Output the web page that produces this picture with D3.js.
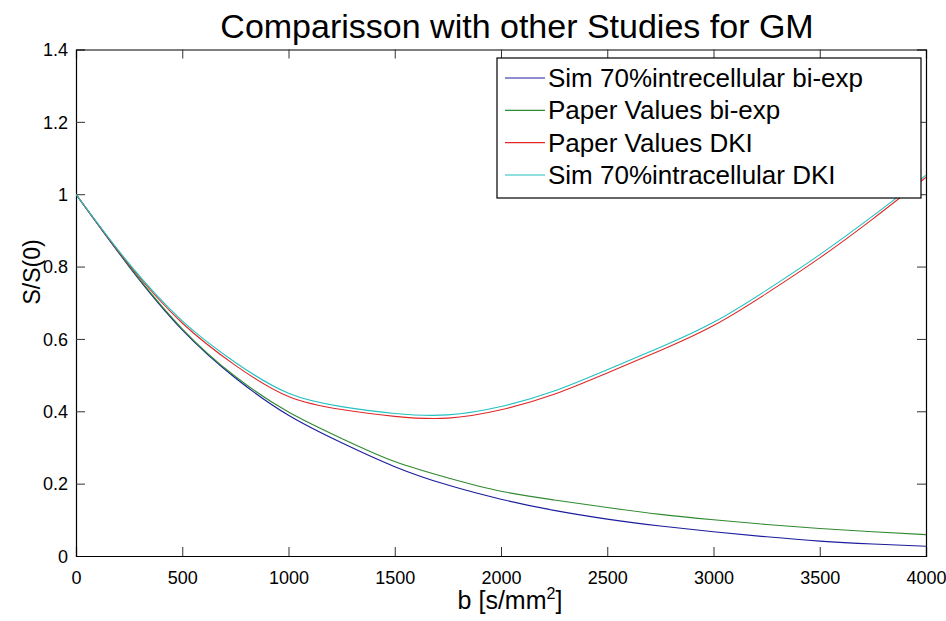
<!DOCTYPE html>
<html>
<head>
<meta charset="utf-8">
<script src="https://cdn.jsdelivr.net/npm/d3@7"></script>
<style>
  html, body { margin: 0; padding: 0; background: #fff; }
  svg { display: block; font-family: "Liberation Sans", Arial, Helvetica, sans-serif; }
</style>
</head>
<body>
<svg id="chart" width="946" height="621"></svg>
<script>
// b-values (s/mm^2) at which the signal curves are sampled
const bValues = [0, 250, 500, 750, 1000, 1250, 1500, 1750, 2000, 2250, 2500, 2750, 3000, 3250, 3500, 3750, 4000];

// Normalised signal S/S(0) for each model
const simBiExp   = [1.000, 0.800, 0.625, 0.492, 0.389, 0.313, 0.247, 0.196, 0.157, 0.126, 0.102, 0.083, 0.067, 0.053, 0.041, 0.033, 0.027];
const paperBiExp = [1.000, 0.802, 0.628, 0.496, 0.398, 0.325, 0.261, 0.216, 0.179, 0.155, 0.134, 0.115, 0.100, 0.087, 0.076, 0.067, 0.059];
const paperDKI   = [1.000, 0.805, 0.644, 0.527, 0.441, 0.405, 0.386, 0.381, 0.404, 0.447, 0.506, 0.568, 0.637, 0.726, 0.824, 0.932, 1.047];
const simDKI     = [1.000, 0.808, 0.650, 0.535, 0.450, 0.413, 0.394, 0.390, 0.413, 0.456, 0.515, 0.577, 0.646, 0.735, 0.833, 0.940, 1.053];

const seriesNames  = ["Sim 70%intrecellular bi-exp", "Paper Values bi-exp", "Paper Values DKI", "Sim 70%intracellular DKI"];
const seriesColors = ["#1c1c9c", "#2f8a2f", "#e02828", "#22c0c0"];
const seriesValues = [simBiExp, paperBiExp, paperDKI, simDKI];

const xTicks = [0, 500, 1000, 1500, 2000, 2500, 3000, 3500, 4000];
const yTicks = [0, 0.2, 0.4, 0.6, 0.8, 1, 1.2, 1.4];

const svg = d3.select("#chart");
const plot = { left: 76, right: 926, top: 49.5, bottom: 556 };

const x = d3.scaleLinear().domain([0, 4000]).range([plot.left, plot.right]);
const y = d3.scaleLinear().domain([0, 1.4]).range([plot.bottom, plot.top]);

// Clip the curves to the axes box
svg.append("defs").append("clipPath").attr("id", "plotClip")
  .append("rect")
  .attr("x", plot.left).attr("y", plot.top)
  .attr("width", plot.right - plot.left).attr("height", plot.bottom - plot.top);

const tickLen = 9;
const fmtY = d => d3.format("")(+d.toFixed(1));

// Bottom axis (ticks point inward)
const xAxisBottom = svg.append("g")
  .attr("transform", `translate(0,${plot.bottom})`)
  .call(d3.axisBottom(x).tickValues(xTicks).tickSize(-tickLen).tickPadding(tickLen + 6).tickFormat(d3.format("d")));
// Top axis
const xAxisTop = svg.append("g")
  .attr("transform", `translate(0,${plot.top})`)
  .call(d3.axisTop(x).tickValues(xTicks).tickSize(-tickLen).tickFormat(""));
// Left axis
const yAxisLeft = svg.append("g")
  .attr("transform", `translate(${plot.left},0)`)
  .call(d3.axisLeft(y).tickValues(yTicks).tickSize(-tickLen).tickPadding(8).tickFormat(fmtY));
// Right axis
const yAxisRight = svg.append("g")
  .attr("transform", `translate(${plot.right},0)`)
  .call(d3.axisRight(y).tickValues(yTicks).tickSize(-tickLen).tickFormat(""));

[xAxisBottom, xAxisTop, yAxisLeft, yAxisRight].forEach(g => {
  g.select(".domain").attr("stroke", "#000").attr("stroke-width", 1.2);
  g.selectAll(".tick line").attr("stroke", "#333").attr("stroke-width", 1);
  g.selectAll(".tick text").attr("fill", "#000").style("font-size", "18px")
    .style("font-family", "'Liberation Sans', Arial, sans-serif");
});
// Hide end ticks that coincide with the box edges
xAxisTop.selectAll(".tick").filter(d => d === 0 || d === 4000).select("line").remove();
xAxisBottom.selectAll(".tick").filter(d => d === 0 || d === 4000).select("line").remove();
yAxisLeft.selectAll(".tick").filter(d => d === 0 || d === 1.4).select("line").remove();
yAxisRight.selectAll(".tick").filter(d => d === 0 || d === 1.4).select("line").remove();
yAxisLeft.selectAll(".tick text").attr("dy", "0.35em");

// Curves
const line = d3.line()
  .x(d => x(d[0]))
  .y(d => y(d[1]))
  .curve(d3.curveNatural);

const curves = svg.append("g").attr("clip-path", "url(#plotClip)");
seriesValues.forEach((vals, i) => {
  curves.append("path")
    .datum(bValues.map((b, j) => [b, vals[j]]))
    .attr("fill", "none")
    .attr("stroke", seriesColors[i])
    .attr("stroke-width", 1.1)
    .attr("d", line);
});

// Title
svg.append("text")
  .attr("x", 517).attr("y", 38)
  .attr("text-anchor", "middle")
  .style("font-size", "34px")
  .text("Comparisson with other Studies for GM");

// Axis labels
const xl = svg.append("text")
  .attr("x", 510).attr("y", 609)
  .attr("text-anchor", "middle")
  .style("font-size", "25px");
xl.append("tspan").text("b [s/mm");
xl.append("tspan").attr("dy", -10).style("font-size", "16px").text("2");
xl.append("tspan").attr("dy", 10).text("]");

svg.append("text")
  .attr("transform", `translate(40,272) rotate(-90)`)
  .attr("text-anchor", "middle")
  .style("font-size", "23px")
  .text("S/S(0)");

// Legend
const legend = { left: 497, right: 921, top: 58, bottom: 198 };
svg.append("rect")
  .attr("x", legend.left).attr("y", legend.top)
  .attr("width", legend.right - legend.left).attr("height", legend.bottom - legend.top)
  .attr("fill", "#fff").attr("stroke", "#000").attr("stroke-width", 1.2);

const rowY = d3.scalePoint().domain(seriesNames).range([78, 175]);
seriesNames.forEach((name, i) => {
  const cy = rowY(name);
  svg.append("line")
    .attr("x1", 505).attr("x2", 545).attr("y1", cy).attr("y2", cy)
    .attr("stroke", seriesColors[i]).attr("stroke-width", 1.1);
  svg.append("text")
    .attr("x", 548).attr("y", cy).attr("dy", "0.35em")
    .style("font-size", "26px")
    .text(name);
});
</script>
</body>
</html>
